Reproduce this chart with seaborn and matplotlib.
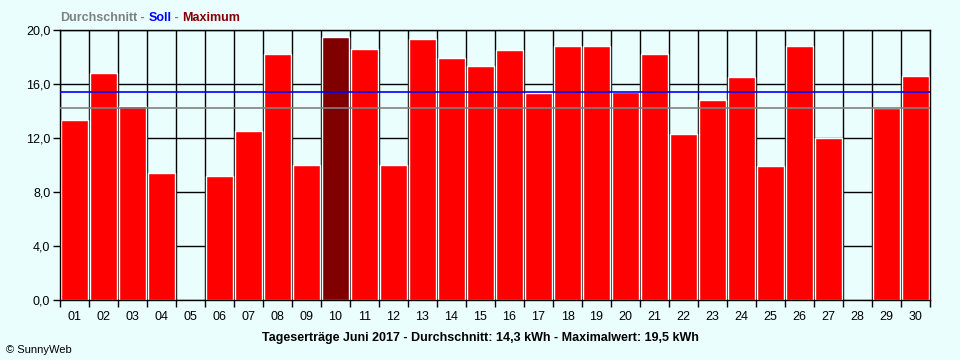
import seaborn as sns
import matplotlib.pyplot as plt
import pandas as pd
from matplotlib.ticker import FixedLocator, FuncFormatter

days = ["01", "02", "03", "04", "05", "06", "07", "08", "09", "10",
        "11", "12", "13", "14", "15", "16", "17", "18", "19", "20",
        "21", "22", "23", "24", "25", "26", "27", "28", "29", "30"]
kwh = [13.3, 16.8, 14.4, 9.4, 0.0, 9.2, 12.5, 18.2, 10.0, 19.5,
       18.6, 10.0, 19.3, 17.9, 17.3, 18.5, 15.3, 18.8, 18.8, 15.4,
       18.2, 12.3, 14.8, 16.5, 9.9, 18.8, 12.0, 0.0, 14.2, 16.6]
durchschnitt = 14.2
soll = 15.4

bg = "#eafefe"
plt.rcParams["font.family"] = ["Liberation Sans", "DejaVu Sans"]

df = pd.DataFrame({"Tag": days, "kWh": kwh})
max_val = max(kwh)
colors = ["#800000" if v == max_val else "#ff0000" for v in kwh]

fig = plt.figure(figsize=(9.6, 3.6), dpi=100, facecolor=bg)
ax = fig.add_axes([60 / 960, 60 / 360, 870 / 960, 270 / 360])
ax.set_facecolor(bg)

sns.barplot(data=df, x="Tag", y="kWh", hue="Tag", palette=colors, legend=False,
            width=0.9, edgecolor="white", linewidth=1, saturation=1, ax=ax, zorder=2)

ax.axhline(durchschnitt, color="#808080", lw=1.2, zorder=3)
ax.axhline(soll, color="#0000ff", lw=1.2, zorder=3)

ax.set_xlim(-0.5, len(days) - 0.5)
ax.set_ylim(0, 20)
ax.yaxis.set_major_locator(FixedLocator([0, 4, 8, 12, 16, 20]))
ax.yaxis.set_major_formatter(FuncFormatter(lambda v, p: f"{v:.1f}".replace(".", ",")))
ax.xaxis.set_major_locator(FixedLocator([i - 0.5 for i in range(len(days) + 1)]))
ax.xaxis.set_major_formatter(FuncFormatter(lambda v, p: ""))
ax.xaxis.set_minor_locator(FixedLocator(list(range(len(days)))))
ax.set_xticklabels(days, minor=True)
ax.tick_params(axis="x", which="major", length=5, width=1, color="black", direction="out")
ax.tick_params(axis="x", which="minor", length=0, pad=8, labelsize=9)
ax.tick_params(axis="y", length=5, width=1, color="black", direction="out", labelsize=9, pad=2)
ax.grid(True, which="major", color="black", lw=1, zorder=0)
ax.set_axisbelow(True)
for s in ax.spines.values():
    s.set_color("black")
    s.set_linewidth(1)
ax.set_xlabel("")
ax.set_ylabel("")

# coloured header
fig.canvas.draw()
renderer = fig.canvas.get_renderer()
x = 60 / 960
for txt, col in [("Durchschnitt", "#808080"), (" - ", "#808080"), ("Soll", "#0000ff"),
                 (" - ", "#808080"), ("Maximum", "#800000")]:
    t = fig.text(x, 1 - 21 / 360, txt, color=col, fontsize=9, fontweight="bold", va="baseline")
    bb = t.get_window_extent(renderer)
    x += bb.width / fig.bbox.width

fig.text(0.5, 1 - 341 / 360,
         "Tageserträge Juni 2017 - Durchschnitt: 14,3 kWh - Maximalwert: 19,5 kWh",
         ha="center", va="baseline", fontsize=9, fontweight="bold")
fig.text(6 / 960, 1 - 353 / 360, "© SunnyWeb", ha="left", va="baseline", fontsize=8)

fig.savefig("out.png", dpi=100, facecolor=bg)
